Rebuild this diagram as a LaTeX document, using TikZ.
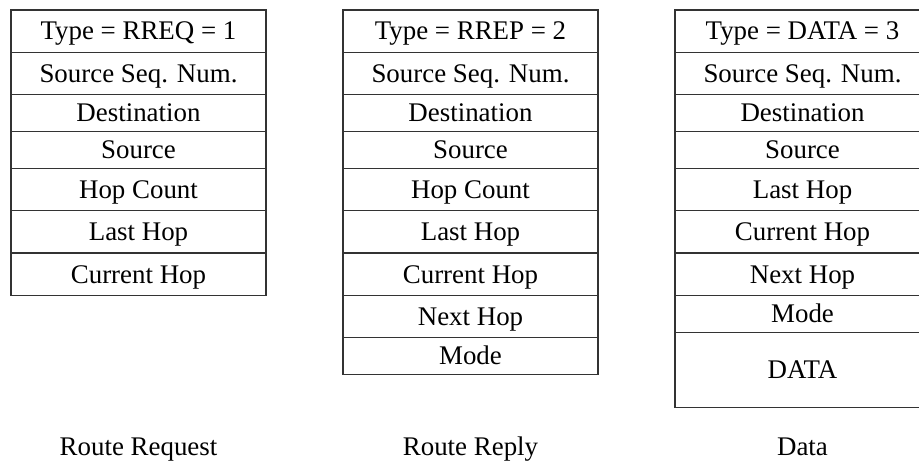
\documentclass[tikz,border=0pt]{standalone}
\usepackage{fontspec}
\setmainfont{Liberation Serif}
\usetikzlibrary{positioning}

\tikzset{
	field/.style={draw=black!80, line width=0.6pt, minimum width=127.5pt, inner sep=0pt, outer sep=0pt, text height=10.6pt, text depth=1.8pt, font=\fontsize{13.45}{16}\selectfont},
	tallrow/.style={field, minimum height=21.2pt},
	shortrow/.style={field, minimum height=18.35pt},
	datarow/.style={field, minimum height=37.5pt},
	caption/.style={anchor=base, font=\fontsize{13.45}{16}\selectfont}
}

\begin{document}
\begin{tikzpicture}[node distance=0pt]
		\useasboundingbox (0pt,0pt) rectangle (459.5pt,-230pt);
		
		% Draw route request packet.
		\node[tallrow, anchor=north] (rq1) at (69.25pt,-5pt) {Type = RREQ = 1};
		\node[tallrow, below=of rq1] (rq2) {Source Seq. Num.};
		\node[shortrow, below=of rq2] (rq3) {Destination};
		\node[shortrow, below=of rq3] (rq4) {Source};
		\node[tallrow, below=of rq4] (rq5) {Hop Count};
		\node[tallrow, below=of rq5] (rq6) {Last Hop};
		\node[tallrow, below=of rq6] (rq7) {Current Hop};
		
		% Draw route reply packet.
		\node[tallrow, anchor=north] (rp1) at (235.25pt,-5pt) {Type = RREP = 2};
		\node[tallrow, below=of rp1] (rp2) {Source Seq. Num.};
		\node[shortrow, below=of rp2] (rp3) {Destination};
		\node[shortrow, below=of rp3] (rp4) {Source};
		\node[tallrow, below=of rp4] (rp5) {Hop Count};
		\node[tallrow, below=of rp5] (rp6) {Last Hop};
		\node[tallrow, below=of rp6] (rp7) {Current Hop};
		\node[tallrow, below=of rp7] (rp8) {Next Hop};
		\node[shortrow, below=of rp8] (rp9) {Mode};
		
		% Draw data packet.
		\node[tallrow, anchor=north] (dt1) at (401.25pt,-5pt) {Type = DATA = 3};
		\node[tallrow, below=of dt1] (dt2) {Source Seq. Num.};
		\node[shortrow, below=of dt2] (dt3) {Destination};
		\node[shortrow, below=of dt3] (dt4) {Source};
		\node[tallrow, below=of dt4] (dt5) {Last Hop};
		\node[tallrow, below=of dt5] (dt6) {Current Hop};
		\node[tallrow, below=of dt6] (dt7) {Next Hop};
		\node[shortrow, below=of dt7] (dt8) {Mode};
		\node[datarow, below=of dt8] (dt9) {DATA};
		
		% Captions.
		\node[caption] (rqlabel) at (69.25pt,-227.5pt) {Route Request};
		\node[caption] (rplabel) at (235.25pt,-227.5pt) {Route Reply};
		\node[caption] (dtlabel) at (401.25pt,-227.5pt) {Data};
	\end{tikzpicture}
\end{document}
